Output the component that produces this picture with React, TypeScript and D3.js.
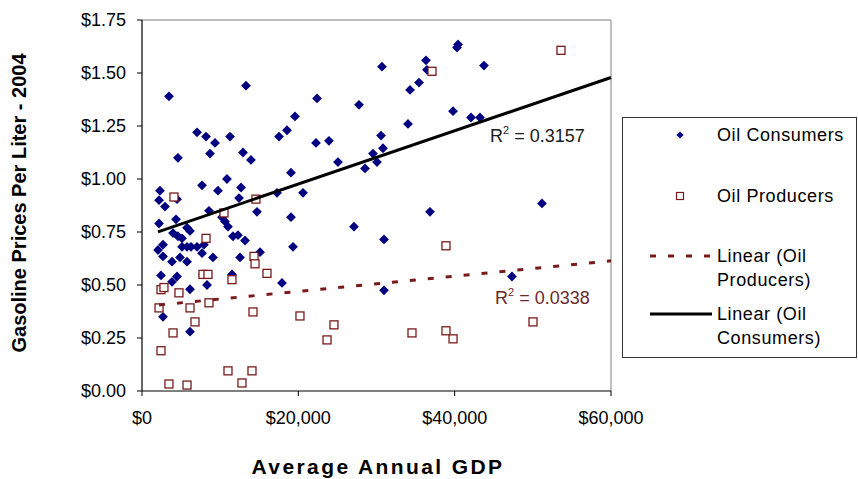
import React from "react";
import * as d3 from "d3";

// ---------- data ----------
const consumerGDP = [
  3450, 13300, 7040, 8190, 11260, 17530, 18550, 9340, 8700, 12920, 13940, 4600,
  7680, 10870, 9720, 12670, 12410, 2300, 2180, 2940, 4480, 17270, 14710, 8570,
  10230, 10620, 11000, 2180, 4350, 5760, 6140, 3970, 4600, 5120, 12280, 11640,
  13180, 2690, 5120, 5760, 6270, 7040, 2050, 7930, 7680, 15100, 2690, 4860,
  9080, 12540, 3840, 5760, 2430, 3840, 4480, 7800, 11510, 6140, 8320, 17910,
  2690, 6140, 36330, 36460, 30700, 35440, 34290, 22390, 27760, 19570, 34030,
  22260, 23920, 30580, 29550, 30830, 30060, 25070, 28530, 19060, 20600, 19060,
  27120, 19320, 30960, 36840, 30960, 40430, 40300, 43750, 39790, 42090, 43240,
  51170, 47330,
];
const consumerPrice = [
  1.39, 1.44, 1.22, 1.2, 1.2, 1.2, 1.23, 1.17, 1.12, 1.125, 1.09, 1.1,
  0.97, 1.0, 0.945, 0.96, 0.91, 0.945, 0.9, 0.87, 0.905, 0.935, 0.845, 0.85,
  0.82, 0.8, 0.775, 0.79, 0.81, 0.77, 0.755, 0.745, 0.73, 0.72, 0.735, 0.73,
  0.71, 0.69, 0.68, 0.68, 0.68, 0.68, 0.665, 0.69, 0.65, 0.655, 0.635, 0.63,
  0.63, 0.63, 0.61, 0.61, 0.545, 0.515, 0.54, 0.55, 0.55, 0.48, 0.5, 0.51,
  0.35, 0.28, 1.56, 1.515, 1.53, 1.455, 1.42, 1.38, 1.35, 1.295, 1.26,
  1.17, 1.18, 1.205, 1.12, 1.145, 1.08, 1.08, 1.05, 1.03, 0.935, 0.82,
  0.775, 0.68, 0.715, 0.845, 0.475, 1.635, 1.62, 1.535, 1.32, 1.29, 1.29,
  0.885, 0.54,
];

const producerGDP = [
  4090, 14580, 10490, 8190, 14330, 14460, 7800, 8440, 15990, 11510, 2430, 2810,
  4730, 2180, 6140, 8570, 14200, 6780, 3970, 2430, 11000, 14070, 12790, 3450,
  5760, 37100, 20210, 24560, 23670, 34540, 38890, 39790, 38890, 50020, 53600,
];
const producerPrice = [
  0.915, 0.905, 0.84, 0.72, 0.635, 0.6, 0.55, 0.55, 0.555, 0.525, 0.478, 0.488,
  0.463, 0.392, 0.392, 0.416, 0.373, 0.326, 0.274, 0.19, 0.095, 0.095, 0.038, 0.033,
  0.028, 1.508, 0.354, 0.312, 0.241, 0.274, 0.284, 0.246, 0.685, 0.326, 1.607,
];

// trend lines: [intercept, slope per $], x range
const consumerTrend = [0.725, 1.256e-5];
const producerTrend = [0.398, 3.6e-6];
const trendRange = [2050, 60000];
const producerTrendRange = [2180, 60000];
const consumerR2 = "0.3157";
const producerR2 = "0.0338";

const xTicks = [0, 20000, 40000, 60000];
const yTicks = [0, 0.25, 0.5, 0.75, 1.0, 1.25, 1.5, 1.75];

const legendLabels = [
  ["Oil Consumers"],
  ["Oil Producers"],
  ["Linear (Oil", "Producers)"],
  ["Linear (Oil", "Consumers)"],
];

// ---------- layout ----------
const W = 858;
const H = 479;
const FONT = "'Liberation Sans', Arial, sans-serif";
const NAVY = "#000080";
const MAROON = "#7a1a1a";

export default function App() {
  const x = d3.scaleLinear().domain([0, 60000]).range([142, 611]);
  const y = d3.scaleLinear().domain([0, 1.75]).range([391, 20]);

  const diamond = d3.symbol().type(d3.symbolSquare).size(48)()!;
  const legendDiamond = d3.symbol().type(d3.symbolSquare).size(26)()!;

  const cLine = d3
    .line<number>()
    .x((d) => x(d))
    .y((d) => y(consumerTrend[0] + consumerTrend[1] * d))(trendRange as number[]);
  const pLine = d3
    .line<number>()
    .x((d) => x(d))
    .y((d) => y(producerTrend[0] + producerTrend[1] * d))(producerTrendRange as number[]);

  const fmtX = (v: number) => "$" + d3.format(",")(v);
  const fmtY = (v: number) => "$" + d3.format(".2f")(v);

  const sq = 8;

  return (
    <svg
      width={W}
      height={H}
      style={{ position: "absolute", left: 0, top: 0, background: "#fff" }}
      fontFamily={FONT}
    >
      {/* plot area frame */}
      <line x1={x(0)} x2={x(60000)} y1={y(1.75)} y2={y(1.75)} stroke="#808080" strokeWidth={1} />
      <line x1={x(60000)} x2={x(60000)} y1={y(1.75)} y2={y(0)} stroke="#808080" strokeWidth={1} />

      {/* y axis */}
      <line x1={x(0)} x2={x(0)} y1={y(1.75)} y2={y(0)} stroke="#000" strokeWidth={1.2} />
      {yTicks.map((t) => (
        <g key={"y" + t}>
          <line x1={x(0) - 5} x2={x(0)} y1={y(t)} y2={y(t)} stroke="#000" />
          <text x={126} y={y(t)} dy="0.36em" textAnchor="end" fontSize={18} fill="#000">
            {fmtY(t)}
          </text>
        </g>
      ))}

      {/* x axis */}
      <line x1={x(0)} x2={x(60000)} y1={y(0)} y2={y(0)} stroke="#000" strokeWidth={1.2} />
      {xTicks.map((t) => (
        <g key={"x" + t}>
          <line x1={x(t)} x2={x(t)} y1={y(0)} y2={y(0) + 5} stroke="#000" />
          <text x={x(t)} y={424} textAnchor="middle" fontSize={18} fill="#000">
            {fmtX(t)}
          </text>
        </g>
      ))}

      {/* axis titles */}
      <text
        x={378}
        y={474}
        textAnchor="middle"
        fontSize={21}
        fontWeight="bold"
        letterSpacing={2.4}
        fill="#000"
      >
        Average Annual GDP
      </text>
      <text
        transform={`translate(26,203) rotate(-90)`}
        textAnchor="middle"
        fontSize={20}
        fontWeight="bold"
        fill="#000"
      >
        Gasoline Prices Per Liter - 2004
      </text>

      {/* consumers */}
      {consumerGDP.map((g, i) => (
        <path
          key={"c" + i}
          d={diamond}
          transform={`translate(${x(g)},${y(consumerPrice[i])}) rotate(45)`}
          fill={NAVY}
        />
      ))}

      {/* producers */}
      {producerGDP.map((g, i) => (
        <rect
          key={"p" + i}
          x={x(g) - sq / 2}
          y={y(producerPrice[i]) - sq / 2}
          width={sq}
          height={sq}
          fill="#fff"
          stroke={MAROON}
          strokeWidth={1.3}
        />
      ))}

      {/* trend lines */}
      <path d={pLine!} fill="none" stroke={MAROON} strokeWidth={3} strokeDasharray="6 12" />
      <path d={cLine!} fill="none" stroke="#000" strokeWidth={3} />

      {/* R² labels */}
      <text x={490} y={142} fontSize={18} fill="#1a1a1a">
        R<tspan fontSize={11} dy={-8}>2</tspan>
        <tspan dy={8}> = {consumerR2}</tspan>
      </text>
      <text x={495} y={304} fontSize={18} fill="#6b2a2a">
        R<tspan fontSize={11} dy={-8}>2</tspan>
        <tspan dy={8}> = {producerR2}</tspan>
      </text>

      {/* legend */}
      <rect x={622.5} y={117.5} width={234} height={240} fill="#fff" stroke="#333" strokeWidth={1} />
      <path d={legendDiamond} transform="translate(680,135) rotate(45)" fill={NAVY} />
      <rect x={676.5} y={192.5} width={7} height={7} fill="#fff" stroke={MAROON} strokeWidth={1.2} />
      <line x1={650} x2={712} y1={256} y2={256} stroke={MAROON} strokeWidth={3} strokeDasharray="6 12" />
      <line x1={650} x2={712} y1={314} y2={314} stroke="#000" strokeWidth={3} />
      {legendLabels.map((lines, i) => {
        const ys = [135, 196, 256, 314][i];
        return (
          <text key={"l" + i} x={717} y={ys} fontSize={18} fill="#000" letterSpacing={0.6}>
            {lines.map((s, j) => (
              <tspan key={j} x={717} dy={j === 0 ? "0.36em" : 24}>
                {s}
              </tspan>
            ))}
          </text>
        );
      })}
    </svg>
  );
}
